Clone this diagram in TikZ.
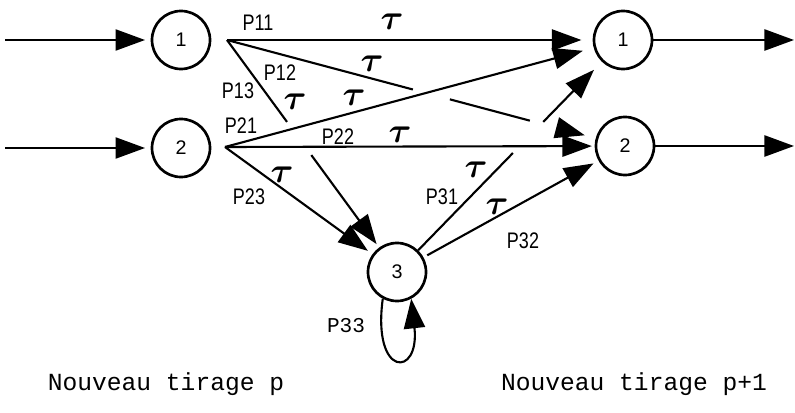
\documentclass[tikz,border=0pt]{standalone}
\usepackage{fontspec}
\setmainfont{Liberation Sans}
\setmonofont{Liberation Mono}
\usepackage{tikz}
\usetikzlibrary{calc}
\usetikzlibrary{arrows.meta, positioning}
\newcommand{\pn}[1]{\scalebox{0.8}[1]{#1}}

\begin{document}
\begin{tikzpicture}[x=0.025cm, y=-0.025cm, >={Triangle[length=21pt,width=15pt]},
  state/.style={circle, draw, line width=1.9pt, minimum size=1.45cm, inner sep=0pt, font=\fontsize{14}{16}\selectfont},
  link/.style={line width=1.5pt},
  prob/.style={font=\fontsize{16}{18}\selectfont},
  tau/.style={font=\fontsize{29}{29}\selectfont\boldmath},
  tirage/.style={font=\ttfamily\fontsize{17.5}{20}\selectfont}]

\useasboundingbox (0,0) rectangle (795,413);

\node[state] (in1) at (181,40) {1};
\node[state] (in2) at (181,148) {2};
\node[state] (out1) at (623,40) {1};
\node[state] (out2) at (625,146) {2};
\node[state] (n3) at (397,272) {3};

\coordinate (s1) at (227,40);
\coordinate (s2) at (225,147);

\foreach \n/\y in {1/40, 2/148} {
  \coordinate (a\n) at (5,\y);
  \draw[link, ->, shorten >=4pt] (a\n) -- (in\n);
}
\foreach \n/\y in {1/40, 2/146} {
  \coordinate (b\n) at (794,\y);
  \draw[link, ->] (out\n) -- (b\n);
}

\draw[link, ->, shorten >=8pt] (s1) -- (out1);
\draw[link] (s1) -- ($(s1)!0.467!(out2)$);
\draw[link] ($(s1)!0.56!(out2)$) -- ($(s1)!0.761!(out2)$);
\draw[link, ->, shorten >=8pt] ($(s1)!0.829!(out2)$) -- (out2);
\draw[link] (s1) -- ($(s1)!0.353!(n3)$);
\draw[link, ->, shorten >=3pt] ($(s1)!0.496!(n3)$) -- (n3);

\draw[link, ->, shorten >=8pt] (s2) -- (out1);
\draw[link, ->, shorten >=2pt] (s2) -- (out2);
\draw[link, ->, shorten >=4pt] (s2) -- (n3);

\draw[link] (n3) -- ($(n3)!0.513!(out1)$);
\draw[link, ->, shorten >=8pt] ($(n3)!0.647!(out1)$) -- (out1);
\draw[link, ->, shorten >=4pt, shorten <=3pt] (n3) -- (out2);
\draw[link, ->] (n3.-118) .. controls (372,378) and (420,378) .. (n3.-62);

\node[prob] (l11) at (258,23) {\pn{P11}};
\node[tau] (t11) at (392,22) {$\tau$};
\node[prob] (l12) at (280,73) {\pn{P12}};
\node[tau] (t12) at (372,64) {$\tau$};
\node[prob] (l13) at (238,91) {\pn{P13}};
\node[tau] (t13) at (295,102) {$\tau$};
\node[prob] (l21) at (241,126) {\pn{P21}};
\node[tau] (t21) at (354,98) {$\tau$};
\node[prob] (l22) at (338,137) {\pn{P22}};
\node[tau] (t22) at (400,135) {$\tau$};
\node[prob] (l23) at (249,197) {\pn{P23}};
\node[tau] (t23) at (282,175) {$\tau$};
\node[prob] (l31) at (442,197) {\pn{P31}};
\node[tau] (t31) at (476,170) {$\tau$};
\node[tau] (t32) at (497,207) {$\tau$};
\node[prob] (l32) at (523,241) {\pn{P32}};
\node[font=\ttfamily\fontsize{15}{17}\selectfont] (l33) at (346,326) {P33};

\node[tirage] (tp) at (166,384) {Nouveau tirage p};
\node[tirage] (tq) at (634,384) {Nouveau tirage p+1};

\end{tikzpicture}
\end{document}
